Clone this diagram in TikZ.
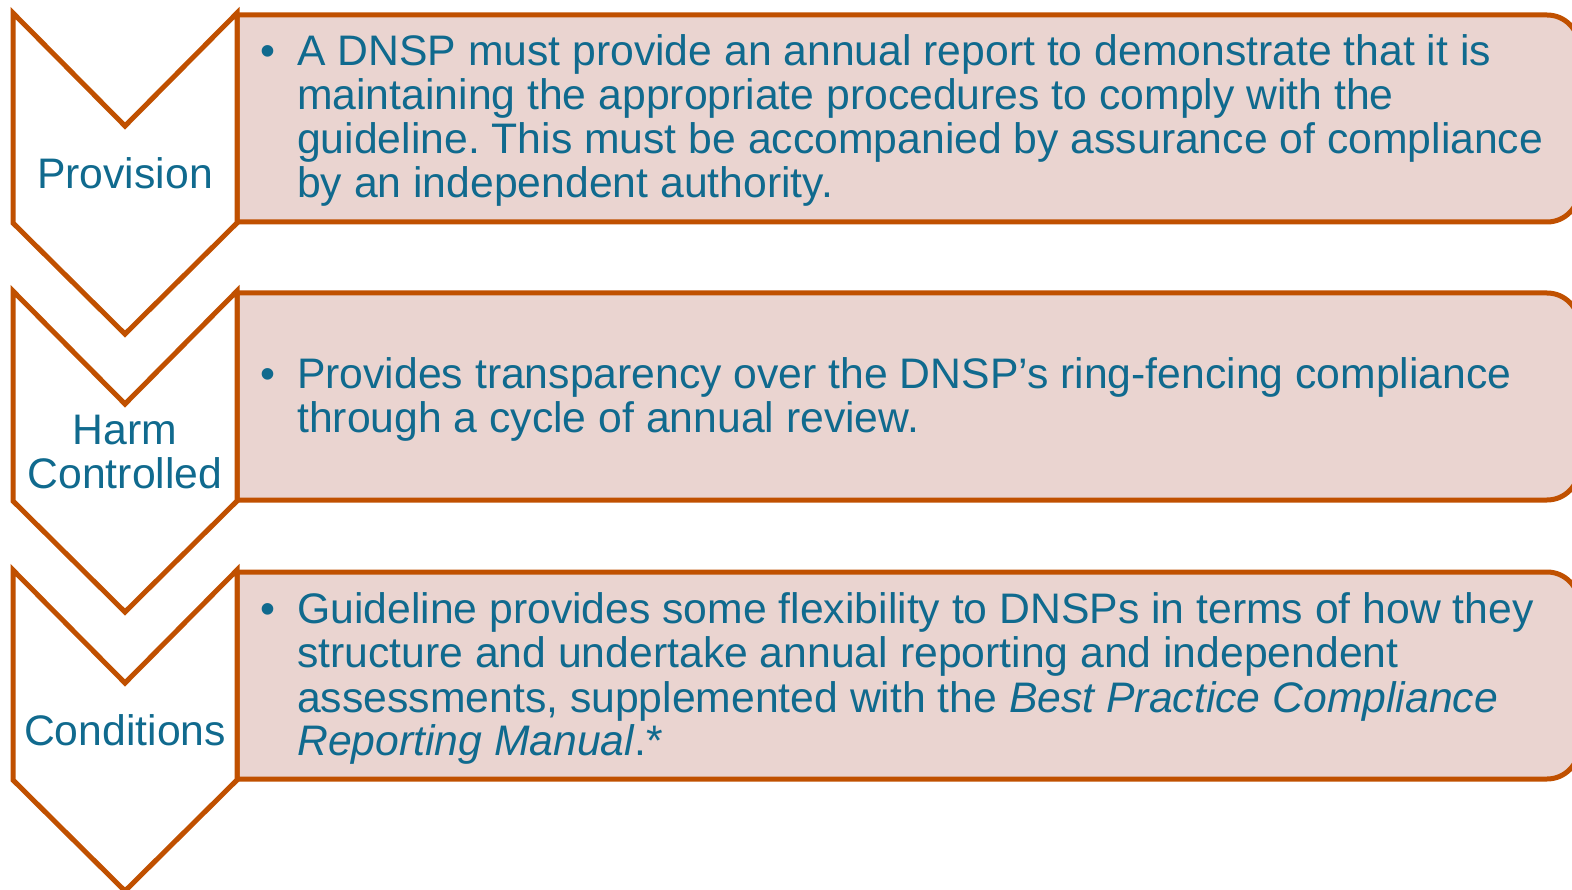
\documentclass[tikz,border=0pt]{standalone}
\usepackage{fontspec}
\setmainfont{Liberation Sans}
\frenchspacing
\definecolor{edge}{RGB}{192,80,0}
\definecolor{boxfill}{RGB}{234,212,208}
\definecolor{txt}{RGB}{16,106,142}
\newcommand{\bodyfont}{\fontsize{42.7}{44}\selectfont\frenchspacing}
\begin{document}
\begin{tikzpicture}[x=1pt,y=1pt,
  chev/.style={draw=edge,fill=white,line width=5pt,line join=miter},
  panel/.style={draw=edge,fill=boxfill,line width=5pt},
  body/.style={anchor=base west,inner sep=0pt,font=\bodyfont,text=txt},
  bul/.style={anchor=base,inner sep=0pt,font=\bodyfont,text=txt},
  lab/.style={anchor=base,inner sep=0pt,font=\bodyfont,text=txt}]
\useasboundingbox (0,0) rectangle (1572,-890);
% panels
\foreach \t/\b in {15/222, 293/500, 572/779}{
  \draw[panel] (237,-\t) -- (1547,-\t) arc[start angle=90,end angle=0,radius=32pt]
    -- (1579,-\b+32) arc[start angle=0,end angle=-90,radius=32pt] -- (237,-\b) -- cycle;
}
% chevrons
\foreach \t in {13,291,570}{
  \draw[chev] (13,-\t) -- (125,-\t-113) -- (237,-\t) -- (237,-\t-210)
    -- (125,-\t-321) -- (13,-\t-210) -- cycle;
}
% chevron labels
\node[lab] (l1) at (125,-189) {Provision};
\node[lab] (l2a) at (125,-445) {Harm};
\node[lab] (l2b) at (125,-489) {Controlled};
\node[lab] (l3) at (125,-745) {Conditions};
% box 1
\node[bul] (u1) at (268,-66) {•};
\node[body] (a1) at (297,-66) {A DNSP must provide an annual report to demonstrate that it is};
\node[body] (a2) at (297,-110) {maintaining the appropriate procedures to comply with the};
\node[body] (a3) at (297,-154) {guideline. This must be accompanied by assurance of compliance};
\node[body] (a4) at (297,-198) {by an independent authority.};
% box 2
\node[bul] (u2) at (268,-389) {•};
\node[body] (b1) at (297,-389) {Provides transparency over the DNSP’s ring-fencing compliance};
\node[body] (b2) at (297,-433) {through a cycle of annual review.};
% box 3
\node[bul] (u3) at (268,-623) {•};
\node[body] (c1) at (297,-623) {Guideline provides some flexibility to DNSPs in terms of how they};
\node[body] (c2) at (297,-667) {structure and undertake annual reporting and independent};
\node[body] (c3) at (297,-712) {assessments, supplemented with the \textit{Best Practice Compliance}};
\node[body] (c4) at (297,-755) {\textit{Reporting Manual}.*};
\end{tikzpicture}
\end{document}
